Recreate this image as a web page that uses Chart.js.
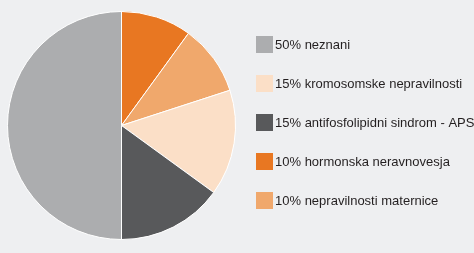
<!DOCTYPE html>
<html>
<head>
<meta charset="utf-8">
<script src="https://cdn.jsdelivr.net/npm/chart.js@4.4.0/dist/chart.umd.min.js"></script>
<style>
  html, body { margin: 0; padding: 0; background: #eeeff1; }
  #wrap { position: relative; width: 474px; height: 253px; }
</style>
</head>
<body>
<div id="wrap"><canvas id="PieChart" width="474" height="253"></canvas></div>
<script>
// slices in drawing order, clockwise from 12 o'clock
const labels = ["10% hormonska neravnovesja", "10% nepravilnosti maternice", "15% kromosomske nepravilnosti", "15% antifosfolipidni sindrom - APS", "50% neznani"];
const values = [10, 10, 15, 15, 50];
const colors = ["#e87722", "#f0a86c", "#fbdfc7", "#58595b", "#acadaf"];
// order the legend lists them in
const legendOrder = ["50% neznani", "15% kromosomske nepravilnosti", "15% antifosfolipidni sindrom - APS", "10% hormonska neravnovesja", "10% nepravilnosti maternice"];

// draws the legend on the right side of the canvas
const sideLegend = {
    id: 'sideLegend',
    afterDraw(chart) {
        const ctx = chart.ctx;
        const ds = chart.data.datasets[0];
        ctx.save();
        ctx.font = "13px 'Liberation Sans', Arial, sans-serif";
        ctx.textBaseline = 'middle';
        legendOrder.forEach(function (name, i) {
            const idx = chart.data.labels.indexOf(name);
            const top = 36 + i * 39;
            ctx.fillStyle = ds.backgroundColor[idx];
            ctx.fillRect(256, top, 17, 17);
            ctx.fillStyle = "#231f20";
            ctx.fillText(name, 275, top + 9);
        });
        ctx.restore();
    }
};

let ctx = document.getElementById('PieChart').getContext('2d');

new Chart(ctx, {
    type: 'pie',
    data: {
        labels: labels,
        datasets: [{
            data: values,
            backgroundColor: colors,
            borderColor: "#ffffff",
            borderWidth: 1
        }]
    },
    options: {
        responsive: false,
        animation: false,
        layout: {
            padding: { left: 6, top: 11, bottom: 13, right: 237 }
        },
        plugins: {
            legend: { display: false },
            tooltip: { enabled: false }
        }
    },
    plugins: [sideLegend]
});
</script>
</body>
</html>
